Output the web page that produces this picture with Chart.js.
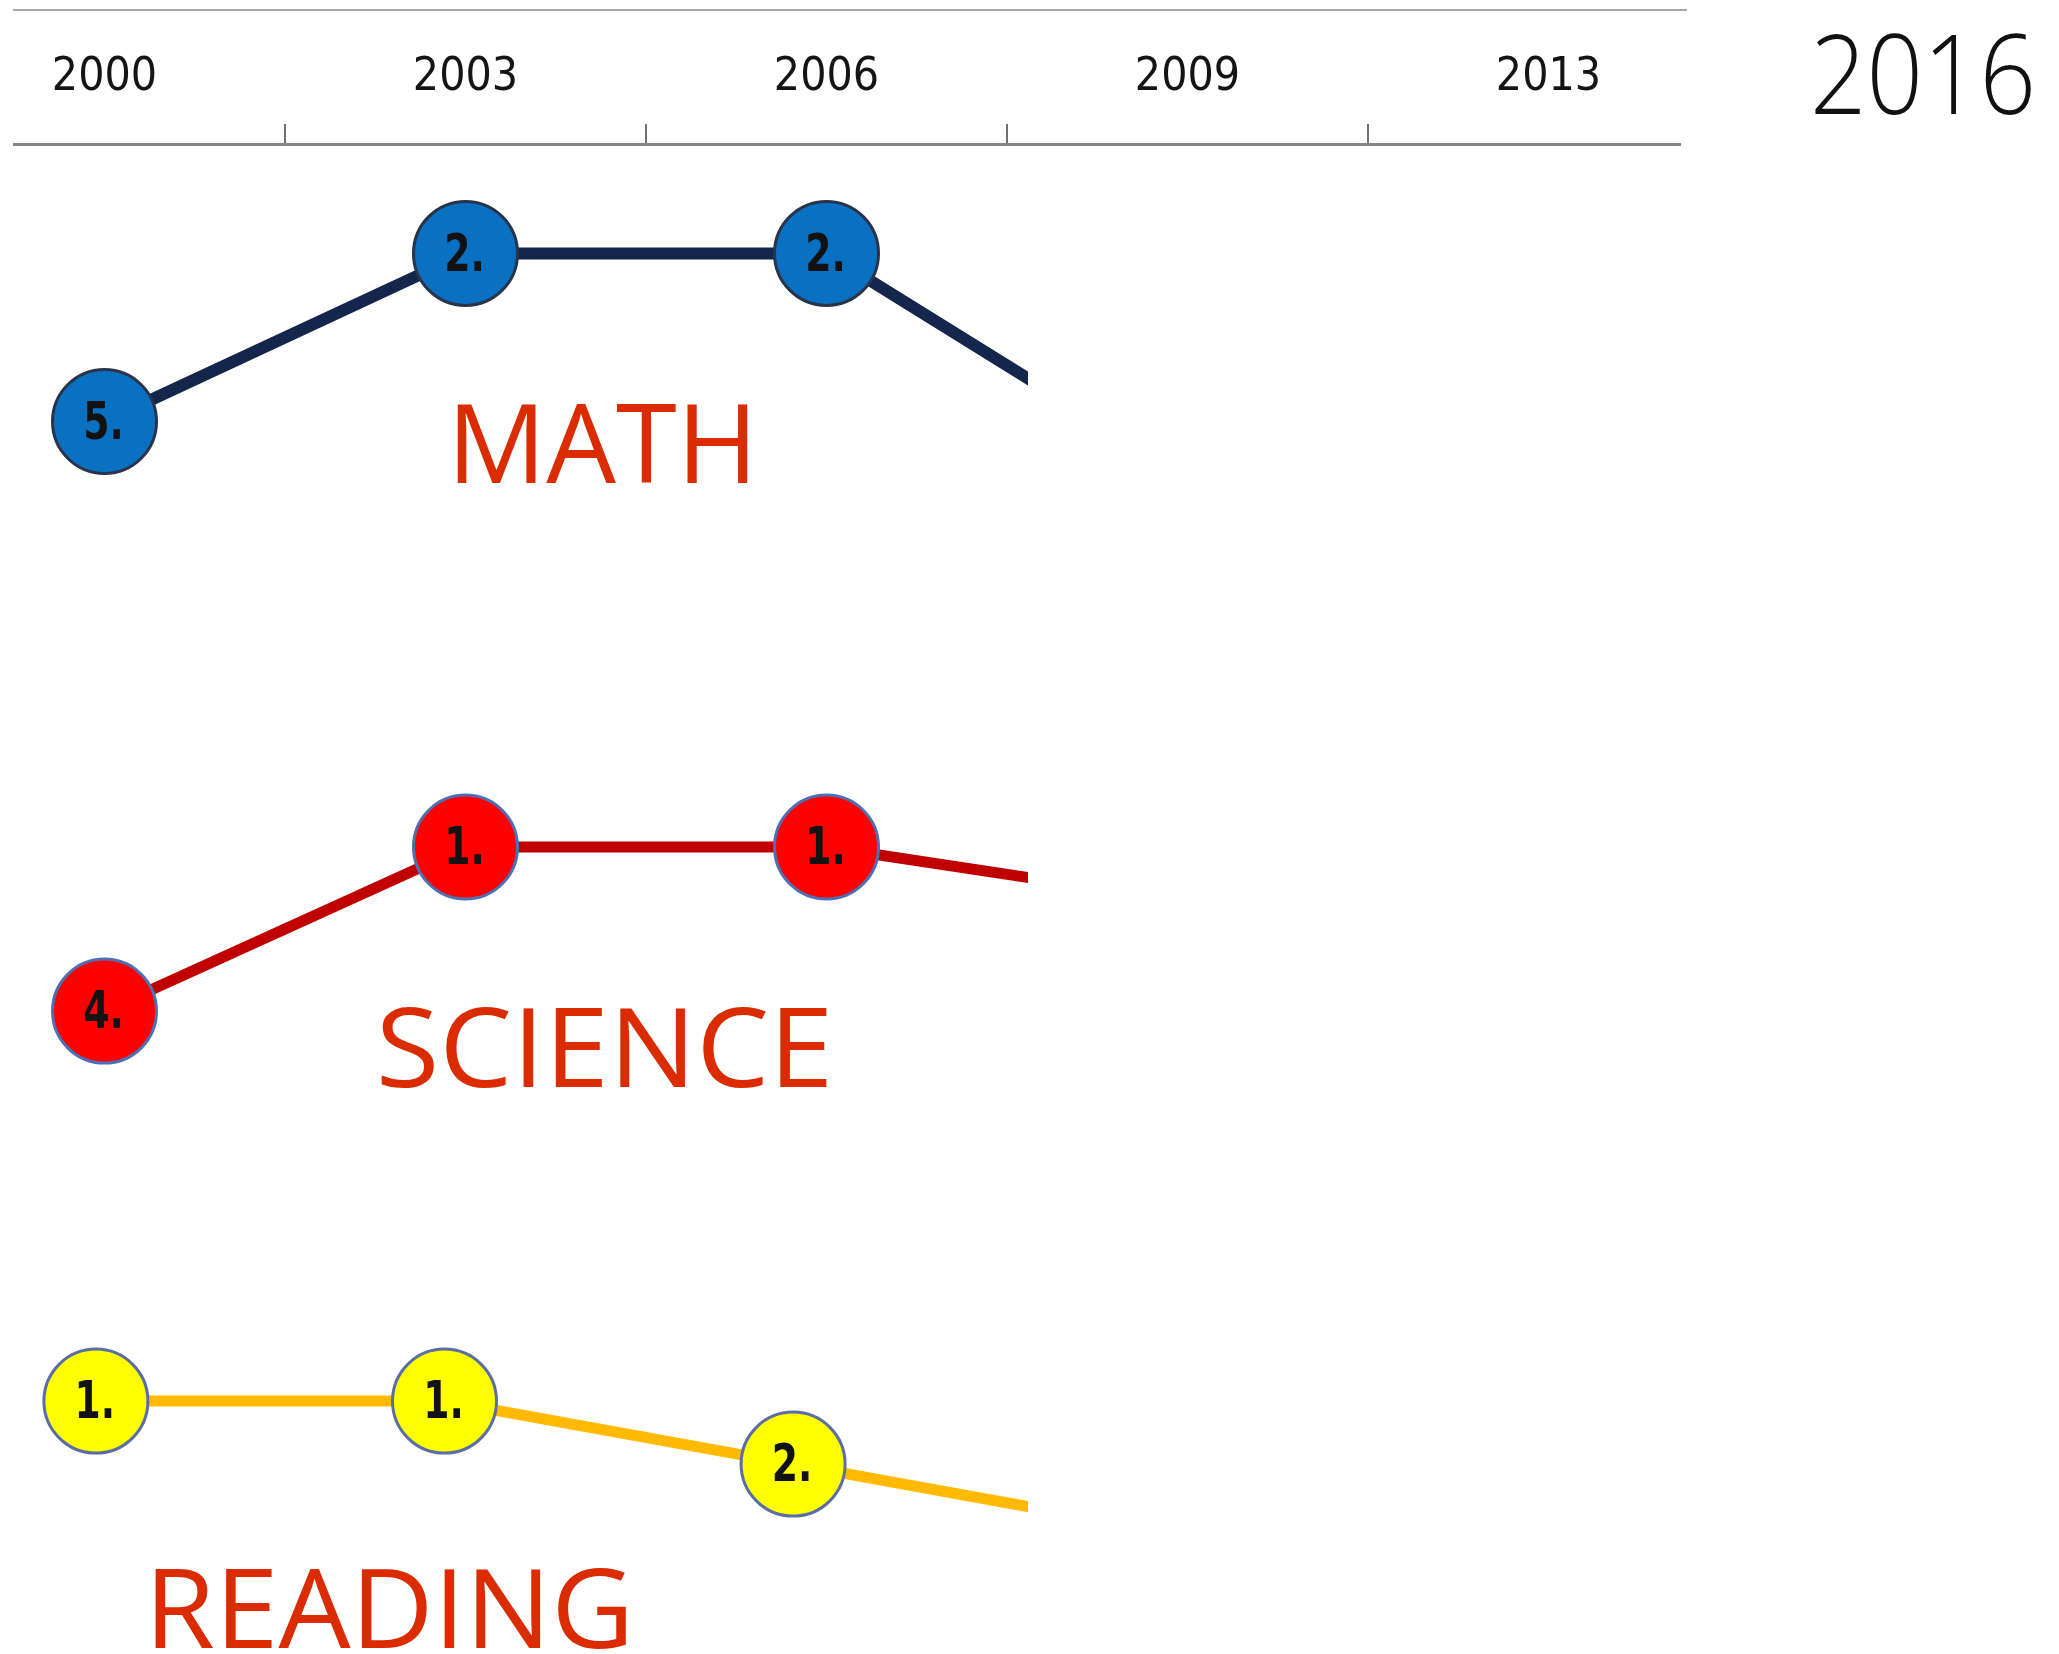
<!DOCTYPE html>
<html>
<head>
<meta charset="utf-8">
<script src="https://cdn.jsdelivr.net/npm/chart.js@4.4.1/dist/chart.umd.min.js"></script>
<style>
  html, body { margin: 0; padding: 0; background: #fff; }
  body { width: 2059px; height: 1654px; position: relative; overflow: hidden; }
  #topRule { position: absolute; left: 13px; top: 9px; width: 1674px; border-top: 2px solid #a8a8a8; }
  #frame { position: absolute; left: 13px; top: 0; width: 1668px; height: 1654px; overflow: hidden; }
  #chart { position: absolute; left: -89px; top: 0; }
  #year {
    position: absolute; left: 1810px; top: 16px;
    font: 300 110px "Open Sans", "Lato", sans-serif; line-height: 110px;
    color: #111; white-space: nowrap;
    transform-origin: 0 0; transform: scaleX(0.9);
  }
</style>
</head>
<body>
<div id="topRule"></div>
<div id="frame"><canvas id="chart" width="1805" height="1654"></canvas></div>
<div id="year">2016</div>
<script>
// ranks per test year (2009 point is cut off in the picture, read from the slope)
const years = ['2000', '2003', '2006', '2009', '2013'];
const mathRank = [5, 2, 2, 6];
const scienceRank = [4, 1, 1, 2];
const readingRank = [1, 1, 2, 3];
const subjectNames = ['MATH', 'SCIENCE', 'READING'];

// layout, in page pixels
const PAGE_LEFT = -76;          // canvas starts left of the page, the chart is cropped
const W = 1805, H = 1654;
const AXIS_Y = 144;
const CUT_X = 1028 - PAGE_LEFT; // lines stop here
const namePlace = [
  { x: 457, base: 483, w: 291 },
  { x: 381, base: 1087, w: 446 },
  { x: 155, base: 1648, w: 471 }
];

// hidden rank axis: rank r1 sits at y1, r2 at y2
function rankScale(r1, y1, r2, y2) {
  const k = (y2 - y1) / (r2 - r1);
  const min = r1 - (y1 - AXIS_Y) / k;
  return { type: 'linear', display: false, reverse: true, min: min, max: min + (H - AXIS_Y) / k };
}
// the reading strip was pasted at a slightly different width
function readingScale(x0, x1) {
  const k = x1 - x0;
  const min = -(x0 - PAGE_LEFT) / k;
  return { type: 'linear', display: false, min: min, max: min + W / k };
}

const cut = { left: false, top: false, right: -(W - CUT_X), bottom: false };

// "5." etc inside the circles, narrow bold
const rankLabels = {
  id: 'rankLabels',
  afterDatasetsDraw(chart) {
    const ctx = chart.ctx;
    ctx.save();
    ctx.beginPath();
    ctx.rect(0, 0, CUT_X, H);
    ctx.clip();
    ctx.font = 'bold 51px "DejaVu Sans", sans-serif';
    ctx.fillStyle = '#121212';
    ctx.textAlign = 'center';
    ctx.textBaseline = 'middle';
    chart.data.datasets.forEach((ds, i) => {
      chart.getDatasetMeta(i).data.forEach((pt, j) => {
        const v = ds.data[j];
        const r = typeof v === 'object' ? v.y : v;
        ctx.save();
        ctx.translate(pt.x - 1, pt.y + 4);
        ctx.scale(0.74, 1);
        ctx.fillText(r + '.', 0, 0);
        ctx.restore();
      });
    });
    ctx.restore();
  }
};

const subjectText = {
  id: 'subjectText',
  afterDraw(chart) {
    const ctx = chart.ctx;
    ctx.save();
    ctx.fillStyle = '#DA2C00';
    ctx.font = '400 110px "Open Sans", sans-serif';
    ctx.textBaseline = 'alphabetic';
    subjectNames.forEach((name, i) => {
      const p = namePlace[i];
      const m = ctx.measureText(name);
      const w = m.actualBoundingBoxLeft + m.actualBoundingBoxRight;
      ctx.save();
      ctx.translate(p.x - PAGE_LEFT, p.base);
      ctx.scale(p.w / w, 1);
      ctx.fillText(name, m.actualBoundingBoxLeft, 0);
      ctx.restore();
    });
    ctx.restore();
  }
};

new Chart(document.getElementById('chart'), {
  type: 'line',
  data: {
    labels: years,
    datasets: [
      {
        label: 'Math', data: mathRank, xAxisID: 'x', yAxisID: 'yM',
        borderColor: '#15264C', borderWidth: 12, tension: 0,
        pointRadius: 52, pointBackgroundColor: '#0A70C2',
        pointBorderColor: '#28344A', pointBorderWidth: 3, clip: cut
      },
      {
        label: 'Science', data: scienceRank, xAxisID: 'x', yAxisID: 'yS',
        borderColor: '#C00000', borderWidth: 11, tension: 0,
        pointRadius: 52, pointBackgroundColor: '#FF0000',
        pointBorderColor: '#4F6FB5', pointBorderWidth: 3, clip: cut
      },
      {
        label: 'Reading', data: readingRank.map((r, i) => ({ x: i, y: r })),
        xAxisID: 'xR', yAxisID: 'yR',
        borderColor: '#FFBA00', borderWidth: 11, tension: 0,
        pointRadius: 52, pointBackgroundColor: '#FFFF00',
        pointBorderColor: '#5A6EA5', pointBorderWidth: 3, clip: cut
      }
    ]
  },
  options: {
    responsive: false,
    animation: false,
    events: [],
    layout: { padding: 0, autoPadding: false },
    plugins: { legend: { display: false }, tooltip: { enabled: false } },
    scales: {
      x: {
        type: 'category', position: 'top', offset: true,
        grid: { offset: true, drawOnChartArea: false, drawTicks: true, tickLength: 20, color: '#707070', lineWidth: 2 },
        border: { display: true, color: '#858585', width: 3 },
        ticks: {
          color: '#141414', padding: 18, maxRotation: 0, autoSkip: false,
          font: { family: '"DejaVu Sans Condensed", "DejaVu Sans", sans-serif', size: 46 }
        },
        afterFit(scale) { scale.height = AXIS_Y; }
      },
      xR: readingScale(95.9, 444.5),
      yM: rankScale(2, 253.4, 5, 421.5),
      yS: rankScale(1, 847.0, 4, 1011.1),
      yR: rankScale(1, 1401.1, 2, 1464.1)
    }
  },
  plugins: [rankLabels, subjectText]
});
</script>
</body>
</html>
